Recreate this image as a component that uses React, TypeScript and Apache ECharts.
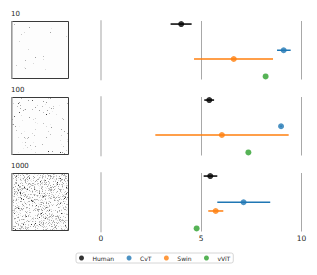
import React, { useEffect, useRef } from 'react';
import * as echarts from 'echarts';

const panelLabels = ['10', '100', '1000'];
const models = ['Human', 'CvT', 'Swin', 'vViT'];
const modelColors = ['#000000', '#1f77b4', '#ff7f0e', '#2ca02c'];
const rowPositions = [0, 3, 4, 6];
const xTicks = [0, 5, 10];

// per panel (10, 100, 1000)
const humanMean = [4.0, 5.4, 5.45];
const humanLow = [3.47, 5.15, 5.12];
const humanHigh = [4.52, 5.64, 5.8];
const cvtMean = [9.11, 8.98, 7.11];
const cvtLow = [8.78, 8.95, 5.8];
const cvtHigh = [9.46, 9.01, 8.44];
const swinMean = [6.62, 6.03, 5.72];
const swinLow = [4.64, 2.71, 5.35];
const swinHigh = [8.58, 9.36, 6.1];
const vvitMean = [8.21, 7.35, 4.77];
const vvitLow = [8.21, 7.35, 4.77];
const vvitHigh = [8.21, 7.35, 4.77];

const noiseDots = [18, 110, 1100];

const means = [humanMean, cvtMean, swinMean, vvitMean];
const lows = [humanLow, cvtLow, swinLow, vvitLow];
const highs = [humanHigh, cvtHigh, swinHigh, vvitHigh];

const FONT = 'DejaVu Sans';
const TEXT = '#262626';
const GRID_LEFT = 101;
const GRID_WIDTH = 200.5;
const GRID_TOPS = [21, 97, 173];
const GRID_H = 58.5;
const IMG_X = 11;
const IMG_SIZE = 58;

function mulberry32(a: number) {
  return function () {
    a |= 0;
    a = (a + 0x6d2b79f5) | 0;
    let t = Math.imul(a ^ (a >>> 15), 1 | a);
    t = (t + Math.imul(t ^ (t >>> 7), 61 | t)) ^ t;
    return ((t ^ (t >>> 14)) >>> 0) / 4294967296;
  };
}

function makeNoise(count: number, seed: number): string {
  const c = document.createElement('canvas');
  c.width = IMG_SIZE;
  c.height = IMG_SIZE;
  const ctx = c.getContext('2d');
  if (!ctx) return '';
  ctx.fillStyle = '#fdfdfd';
  ctx.fillRect(0, 0, IMG_SIZE, IMG_SIZE);
  const rnd = mulberry32(seed);
  for (let i = 0; i < count; i++) {
    const x = Math.floor(rnd() * IMG_SIZE);
    const y = Math.floor(rnd() * IMG_SIZE);
    const r = rnd();
    const g = r < 0.05 ? Math.floor(40 + rnd() * 60) : Math.floor(150 + rnd() * 90);
    ctx.fillStyle = `rgb(${g},${g},${g})`;
    ctx.fillRect(x, y, 1, 1);
  }
  return c.toDataURL();
}

export default function App() {
  const ref = useRef<HTMLDivElement>(null);
  useEffect(() => {
    if (!ref.current) return;
    const chart = echarts.init(ref.current, null, { renderer: 'svg' });

    const grids: any[] = [];
    const xAxes: any[] = [];
    const yAxes: any[] = [];
    const series: any[] = [];
    const graphics: any[] = [];

    panelLabels.forEach((label, p) => {
      const top = GRID_TOPS[p];
      grids.push({ left: GRID_LEFT, top, width: GRID_WIDTH, height: GRID_H, containLabel: false });
      xAxes.push({
        gridIndex: p,
        type: 'value',
        min: 0,
        max: 10,
        interval: 5,
        axisLine: { show: false },
        axisTick: { show: false },
        axisLabel: {
          show: p === panelLabels.length - 1,
          fontFamily: FONT,
          fontSize: 7.5,
          color: () => TEXT,
          margin: 3,
          formatter: (v: number) => (xTicks.includes(v) ? String(v) : ''),
        },
        splitLine: { show: true, lineStyle: { color: ['rgba(0,0,0,0)', '#a8a8a8', '#a8a8a8'], width: 1 } },
      });
      yAxes.push({
        gridIndex: p,
        type: 'value',
        min: -0.35,
        max: 6.35,
        inverse: true,
        axisLine: { show: true, onZero: false, lineStyle: { color: '#d2d2d2', width: 2 } },
        axisTick: { show: false },
        axisLabel: { show: false },
        splitLine: { show: false },
      });

      models.forEach((m, k) => {
        series.push({
          type: 'custom',
          name: m + ' error',
          xAxisIndex: p,
          yAxisIndex: p,
          data: [[lows[k][p], highs[k][p], rowPositions[k]]],
          renderItem: (params: any, api: any) => {
            const a = api.coord([api.value(0), api.value(2)]);
            const b = api.coord([api.value(1), api.value(2)]);
            return {
              type: 'line',
              shape: { x1: a[0], y1: a[1], x2: b[0], y2: b[1] },
              style: { stroke: modelColors[k], lineWidth: 1.5 },
            };
          },
          silent: true,
        });
        series.push({
          type: 'scatter',
          name: m,
          xAxisIndex: p,
          yAxisIndex: p,
          symbol: 'circle',
          symbolSize: 6,
          itemStyle: { color: modelColors[k] },
          data: [[means[k][p], rowPositions[k]]],
        });
      });

      graphics.push({
        type: 'text',
        x: IMG_X,
        y: top - 7,
        style: { text: label, fontFamily: FONT, fontSize: 7, fill: TEXT, verticalAlign: 'middle', align: 'left' },
      });
      graphics.push({
        type: 'image',
        x: IMG_X,
        y: top,
        style: { image: makeNoise(noiseDots[p], 17 + p * 101), x: 0, y: 0, width: IMG_SIZE, height: IMG_SIZE },
      });
      graphics.push({
        type: 'rect',
        shape: { x: IMG_X + 0.5, y: top + 0.5, width: IMG_SIZE - 1, height: IMG_SIZE - 1 },
        style: { fill: 'none', stroke: '#3a3a3a', lineWidth: 1 },
      });
      graphics.push({
        type: 'line',
        shape: { x1: IMG_X + 0.8, y1: top, x2: IMG_X + 0.8, y2: top + IMG_SIZE },
        style: { stroke: '#999', lineWidth: 1.6 },
      });
    });

    chart.setOption({
      animation: false,
      backgroundColor: '#ffffff',
      textStyle: { fontFamily: FONT, color: TEXT },
      grid: grids,
      xAxis: xAxes,
      yAxis: yAxes,
      series,
      graphic: graphics,
      legend: {
        data: models.map((m) => ({ name: m, icon: 'circle', textStyle: { color: TEXT } })),
        left: 76,
        top: 253,
        orient: 'horizontal',
        itemWidth: 12,
        itemHeight: 5,
        itemGap: 12.4,
        padding: [2, 3, 2, 3],
        borderColor: '#cccccc',
        borderWidth: 0.8,
        borderRadius: 2,
        textStyle: { fontFamily: FONT, fontSize: 6, color: TEXT },
        selectedMode: false,
      },
    });
    return () => chart.dispose();
  }, []);
  return <div ref={ref} style={{ width: 317, height: 275, position: 'absolute', left: 0, top: 0 }} />;
}
